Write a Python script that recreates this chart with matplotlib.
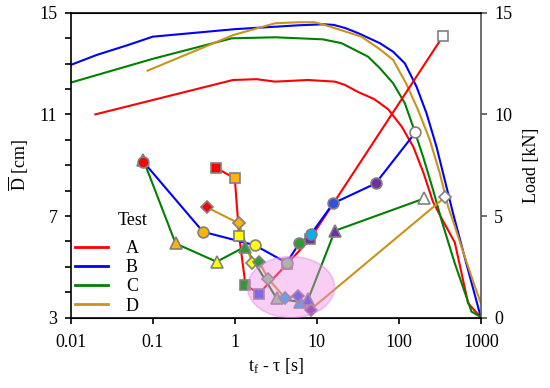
import matplotlib
matplotlib.use('Agg')
import matplotlib.pyplot as plt
from matplotlib.lines import Line2D
from matplotlib.patches import Ellipse
from matplotlib.ticker import MultipleLocator, NullLocator

plt.rcParams['font.family'] = ['Liberation Serif', 'DejaVu Serif']
plt.rcParams['mathtext.fontset'] = 'custom'
plt.rcParams['mathtext.rm'] = 'Liberation Serif'
plt.rcParams['mathtext.it'] = 'Liberation Serif:italic'
plt.rcParams['font.size'] = 13

# load curves (right axis, kN) for each test
tA_load = [0.02, 0.95, 1.84, 3.1, 7.8, 16.6, 21.9, 31.8, 50, 74, 108, 150, 200, 260, 330, 480, 697, 1000]
lA_load = [10.0, 11.69, 11.73, 11.61, 11.69, 11.61, 11.45, 11.1, 10.75, 10.25, 9.4, 8.4, 7.1, 5.7, 4.9, 3.7, 0.71, 0.0]

tB_load = [0.01, 0.0207, 0.05, 0.1, 1, 3.1, 6, 12, 16, 22, 32, 58.6, 85, 118, 164, 217, 287, 362, 457, 671, 1000]
lB_load = [12.43, 12.92, 13.41, 13.82, 14.19, 14.31, 14.38, 14.43, 14.4, 14.25, 13.99, 13.5, 13.08, 12.51, 11.36, 10.05, 8.41, 6.77, 5.13, 2.59, 0.0]

tC_load = [0.01, 0.1, 0.92, 3.1, 11.8, 20, 42, 58.6, 85, 118, 149, 197, 261, 330, 479, 766, 1000]
lC_load = [11.56, 12.73, 13.74, 13.79, 13.69, 13.5, 12.84, 12.27, 11.53, 10.55, 9.39, 7.92, 6.28, 4.8, 2.68, 0.3, 0.03]

tD_load = [0.0867, 0.955, 3.1, 6, 9.4, 12.4, 35, 58.6, 85, 122, 171, 238, 315, 398, 480, 578, 800, 1000]
lD_load = [12.15, 13.9, 14.48, 14.53, 14.53, 14.4, 13.82, 13.2, 12.68, 11.53, 10.22, 8.74, 7.1, 5.46, 4.5, 3.49, 1.8, 0.7]

# mean diameter points (left axis, cm)
tA = [0.59, 1.0, 1.13, 1.35, 1.97, 4.3, 8.2, 345]
dA = [8.9, 8.48, 6.22, 4.28, 3.95, 5.1, 6.08, 14.08]
cA = ['red', 'orange', 'yellow', 'green', 'blue', 'lightgreen', 'purple', 'white']

tB = [0.077, 0.41, 1.76, 4.27, 6.09, 8.45, 15.8, 51.9, 159]
dB = [9.13, 6.38, 5.85, 5.16, 5.92, 6.28, 7.5, 8.28, 10.29]
cB = ['red', 'orange', 'yellow', 'lightgreen', 'green', 'cyan', 'blue', 'purple', 'white']

tC = [0.077, 0.19, 0.6, 1.33, 3.23, 6.2, 7.83, 16.6, 203]
dC = [9.2, 5.92, 5.2, 5.79, 3.76, 3.62, 3.72, 6.42, 7.69]
cC = ['red', 'orange', 'yellow', 'green', 'lightgreen', 'cyan', 'blue', 'purple', 'white']

tD = [0.46, 1.12, 1.63, 1.98, 2.55, 4.07, 5.9, 8.38, 362]
dD = [7.34, 6.71, 5.17, 5.2, 4.54, 3.78, 3.85, 3.32, 7.73]
cD = ['red', 'orange', 'yellow', 'green', 'lightgreen', 'cyan', 'blue', 'purple', 'white']

tests = ['A', 'B', 'C', 'D']
xticks = [0.01, 0.1, 1, 10, 100, 1000]
xlabels = ['0.01', '0.1', '1', '10', '100', '1000']

palette = {'red': '#ff0000', 'orange': '#ffb400', 'yellow': '#ffff00', 'green': '#339933',
           'lightgreen': '#80d080', 'cyan': '#00b0f0', 'blue': '#3350e0',
           'purple': '#7030a0', 'white': '#ffffff'}
line_cols = {'A': '#ff0000', 'B': '#0000ff', 'C': '#008000', 'D': '#c8941a'}
marks = {'A': 's', 'B': 'o', 'C': '^', 'D': 'D'}
msize = {'A': 7.5, 'B': 7.8, 'C': 8.2, 'D': 6.0}

fig = plt.figure(figsize=(5.5, 3.88), dpi=100)
ax = fig.add_axes([0.1285, 0.1812, 0.746, 0.7861])
ax2 = ax.twinx()

# load curves on the right axis
loads = {'A': (tA_load, lA_load), 'B': (tB_load, lB_load),
         'C': (tC_load, lC_load), 'D': (tD_load, lD_load)}
for k in tests:
    ax2.plot(loads[k][0], loads[k][1], color=line_cols[k], lw=1.5)

ax.set_zorder(ax2.get_zorder() + 1)
ax.patch.set_visible(False)

pts = {'A': (tA, dA, cA), 'B': (tB, dB, cB), 'C': (tC, dC, cC), 'D': (tD, dD, cD)}
for k in tests:
    ax.plot(pts[k][0], pts[k][1], color=line_cols[k], lw=1.5, zorder=2)
for k in ['A', 'C', 'D', 'B']:
    t, d, c = pts[k]
    for xi, yi, ci in zip(t, d, c):
        ax.plot(xi, yi, marker=marks[k], ms=msize[k], mfc=palette[ci],
                mec='#808080', mew=1.2, ls='none', zorder=3)

ell = Ellipse((0.537, 0.1), 0.212, 0.201, transform=ax.transAxes,
              facecolor='#f08ce8', edgecolor='#e878e8', alpha=0.42, lw=1.2, zorder=4)
ax.add_patch(ell)

ax.set_xscale('log')
ax.set_xlim(0.01, 1000)
ax.set_ylim(3, 15)
ax2.set_ylim(0, 15)
ax.set_xticks(xticks)
ax.set_xticklabels(xlabels)
ax.xaxis.set_minor_locator(NullLocator())
ax.set_yticks([3, 7, 11, 15])
ax.yaxis.set_minor_locator(MultipleLocator(1))
ax2.set_yticks([0, 5, 10, 15])

ax.tick_params(axis='both', which='both', direction='out', length=4.5, width=1.2, labelsize=13)
ax.tick_params(axis='x', pad=7)
ax.tick_params(axis='y', pad=5)
ax2.tick_params(axis='y', direction='out', length=4.5, width=1.2, labelsize=13, pad=5,
                color='#555555')
for s in ['left', 'bottom', 'top']:
    ax.spines[s].set_linewidth(1.2)
ax2.spines['right'].set_color('#555555')
ax2.spines['right'].set_linewidth(1.2)
ax.spines['right'].set_visible(False)
ax2.spines['left'].set_visible(False)

ax.set_xlabel(r'$\mathrm{t_f}$ - τ [s]', fontsize=13, labelpad=4)
ax.set_ylabel(r'$\overline{\mathrm{D}}$ [cm]', fontsize=13, labelpad=6)
ax2.set_ylabel('Load [kN]', fontsize=13, labelpad=8)

handles = [Line2D([], [], color=line_cols[k], lw=2) for k in tests]
leg = ax.legend(handles, tests, loc='lower left', bbox_to_anchor=(0.01, 0.01),
                frameon=False, borderpad=0, borderaxespad=0, handlelength=1.83,
                handletextpad=1.0, labelspacing=0.12, fontsize=13)
leg.set_zorder(5)
ax.text(0.152, 0.32, 'Test', transform=ax.transAxes, fontsize=13, ha='center', va='center')

fig.savefig('out.png', dpi=100)
